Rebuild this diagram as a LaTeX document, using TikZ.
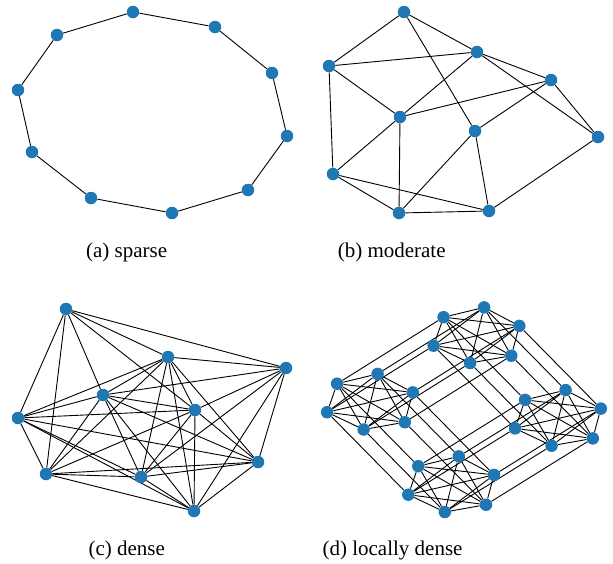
\documentclass[tikz,border=0pt]{standalone}
\usepackage{fontspec}
\setmainfont{Liberation Serif}
\definecolor{mplblue}{HTML}{1F77B4}
\pgfdeclarelayer{bg}
\pgfsetlayers{bg,main}
\tikzset{
  dot/.style={circle, fill=mplblue, inner sep=0pt, minimum size=12.5pt},
  edge/.style={draw=black, line width=0.9pt},
  captext/.style={anchor=base, font=\fontsize{21}{25}\selectfont, inner sep=0pt}
}
\begin{document}
\begin{tikzpicture}[x=1pt, y=-1pt]
\useasboundingbox (0,0) rectangle (613,563);
% ---------- (a) sparse ----------
\foreach \n/\x/\y in {1/133/12, 2/215/27, 3/272/73, 4/287/136, 5/248/190,
                      6/172/213, 7/91/198, 8/32/152, 9/18/90, 10/57/35}
  \node[dot] (a\n) at (\x,\y) {};
\begin{pgfonlayer}{bg}
\foreach \i/\j in {1/2,2/3,3/4,4/5,5/6,6/7,7/8,8/9,9/10,10/1}
  \draw[edge] (a\i) -- (a\j);
\end{pgfonlayer}
\node[captext] (capa) at (126.7,257) {(a) sparse};
% ---------- (b) moderate ----------
\foreach \n/\x/\y in {A/404/12, B/477/52, C/329/66, D/551/80, E/400/117,
                      F/475/131, G/598/137, H/333/174, I/399/213, J/489/211}
  \node[dot] (b\n) at (\x,\y) {};
\begin{pgfonlayer}{bg}
\foreach \i/\j in {A/B,A/C,A/F,C/B,C/E,C/H,B/E,B/D,B/G,D/E,D/F,D/G,
                   E/H,E/I,F/I,F/J,G/J,H/I,H/J,I/J}
  \draw[edge] (b\i) -- (b\j);
\end{pgfonlayer}
\node[captext] (capb) at (391.7,257) {(b) moderate};
% ---------- (c) dense ----------
\foreach \n/\x/\y in {1/66/309, 2/168/357, 3/286/368, 4/103/395, 5/195/410,
                      6/18/418, 7/258/462, 8/46/474, 9/141/477, 10/194/511}
  \node[dot] (c\n) at (\x,\y) {};
\begin{pgfonlayer}{bg}
\foreach \i/\j in {1/2,1/3,1/4,1/5,1/6,1/8,
                   2/3,2/4,2/5,2/6,2/7,2/8,2/9,2/10,
                   3/4,3/5,3/7,3/9,3/10,
                   4/5,4/6,4/7,4/8,4/9,4/10,
                   5/6,5/7,5/8,5/9,5/10,
                   6/7,6/8,6/9,6/10,
                   7/8,7/9,7/10,
                   8/9,8/10,
                   9/10}
  \draw[edge] (c\i) -- (c\j);
\end{pgfonlayer}
\node[captext] (capc) at (126.7,555.5) {(c) dense};
% ---------- (d) locally dense ----------
\foreach \c/\cx/\cy in {L/370.5/402.3, T/477/335.8, R/558.5/418.5, B/451.7/484.8}{
  \foreach \i/\dx/\dy in {1/-33.4/-18.6, 2/7.1/-28.4, 3/42.3/-9.9,
                          4/-43.4/9.9, 5/34.3/19.9, 6/-6.9/27.2}
    \node[dot] (d\c\i) at ({\cx+\dx},{\cy+\dy}) {};
}
\begin{pgfonlayer}{bg}
\foreach \c in {L,T,R,B}{
  \foreach \i in {1,...,6}{
    \foreach \j in {1,...,6}{
      \ifnum\i<\j \draw[edge] (d\c\i) -- (d\c\j); \fi
    }
  }
}
\foreach \p/\q in {L/T, L/B, T/R, B/R}{
  \foreach \i in {1,...,6}
    \draw[edge] (d\p\i) -- (d\q\i);
}
\end{pgfonlayer}
\node[captext] (capd) at (392.5,555.5) {(d) locally dense};
\end{tikzpicture}
\end{document}
